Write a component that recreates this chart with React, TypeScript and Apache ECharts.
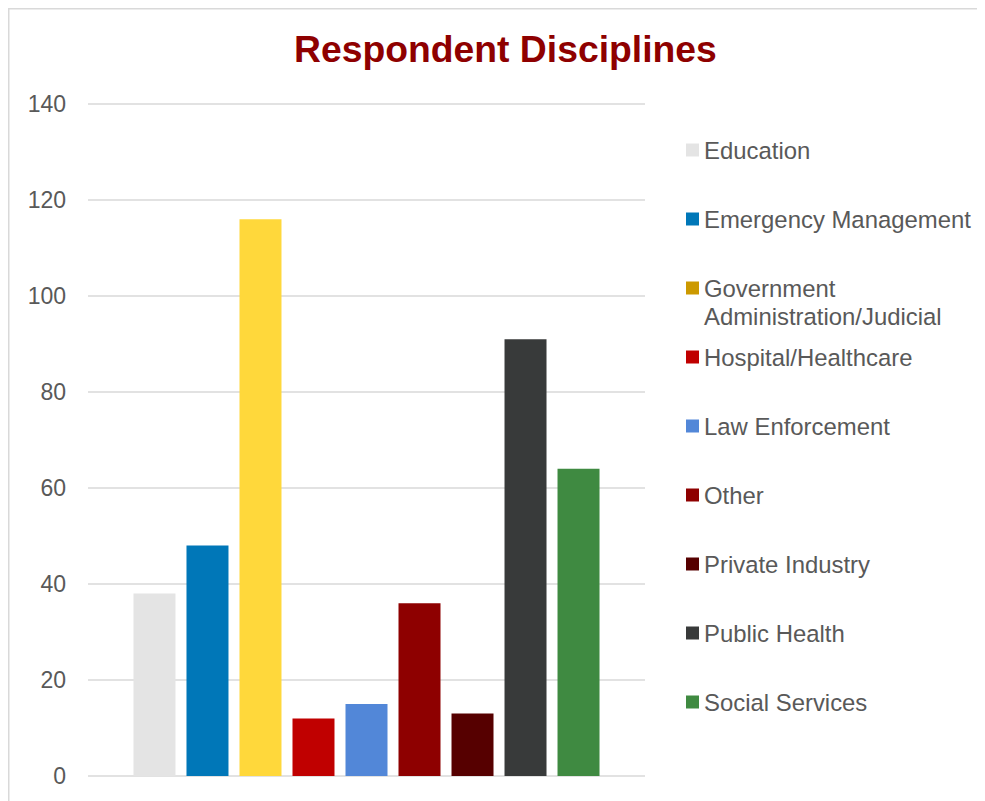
import React, { useEffect, useRef } from "react";
import * as echarts from "echarts";

const title = "Respondent Disciplines";
const disciplines = [
  "Education",
  "Emergency Management",
  "Government Administration/Judicial",
  "Hospital/Healthcare",
  "Law Enforcement",
  "Other",
  "Private Industry",
  "Public Health",
  "Social Services",
];
const counts = [38, 48, 116, 12, 15, 36, 13, 91, 64];
const barColors = [
  "#E4E4E4",
  "#0077B8",
  "#FFD83B",
  "#C00000",
  "#5287D8",
  "#8E0000",
  "#560000",
  "#383A3A",
  "#3F8A41",
];
const legendColors = [
  "#E4E4E4",
  "#0077B8",
  "#CC9900",
  "#C00000",
  "#5287D8",
  "#8E0000",
  "#560000",
  "#383A3A",
  "#3F8A41",
];
const yTicks = { min: 0, max: 140, interval: 20 };

const FONT = "'Liberation Sans', Arial, sans-serif";

export default function App() {
  const ref = useRef<HTMLDivElement>(null);

  useEffect(() => {
    document.body.style.overflow = "hidden";
    if (!ref.current) return;
    const chart = echarts.init(ref.current, undefined, { renderer: "svg" });

    const legendText = {
      color: "#595959",
      fontSize: 23.9,
      fontFamily: FONT,
      lineHeight: 28,
    };
    const legendBase = {
      orient: "vertical" as const,
      left: 678,
      padding: 0,
      itemWidth: 13,
      itemHeight: 13,
      itemGap: 41,
      icon: "rect",
      selectedMode: false,
      textStyle: legendText,
    };
    const legendItem = (i: number) => ({
      name: disciplines[i],
      itemStyle: { color: legendColors[i] },
    });

    chart.setOption({
      animation: false,
      backgroundColor: "#FFFFFF",
      title: {
        text: title,
        left: 286,
        top: 22.4,
        padding: 0,
        textStyle: {
          color: "#8E0000",
          fontSize: 37.3,
          fontWeight: "bold",
          fontFamily: FONT,
          lineHeight: 37.3,
        },
      },
      graphic: [
        {
          type: "rect",
          shape: { x: 0.75, y: 0.75, width: 3000, height: 3000 },
          style: { fill: "none", stroke: "#D9D9D9", lineWidth: 1.5 },
          silent: true,
        },
      ],
      legend: [
        {
          ...legendBase,
          top: 128,
          data: [legendItem(0), legendItem(1)],
        },
        {
          ...legendBase,
          top: 238,
          data: [legendItem(2)],
          formatter: () => "\nGovernment\nAdministration/Judicial",
        },
        {
          ...legendBase,
          top: 335,
          data: [3, 4, 5, 6, 7, 8].map(legendItem),
        },
      ],
      grid: { left: 80, top: 96, width: 557, height: 672, containLabel: false },
      xAxis: {
        type: "category",
        data: [""],
        axisLine: { show: false },
        axisTick: { show: false },
        axisLabel: { show: false },
        splitLine: { show: false },
      },
      yAxis: {
        type: "value",
        min: yTicks.min,
        max: yTicks.max,
        interval: yTicks.interval,
        axisLine: { show: false },
        axisTick: { show: false },
        axisLabel: {
          color: "#595959",
          fontSize: 23,
          fontFamily: FONT,
          margin: 22,
        },
        splitLine: { lineStyle: { color: "#D9D9D9", width: 1.5 } },
      },
      series: disciplines.map((name, i) => ({
        name,
        type: "bar",
        data: [counts[i]],
        barWidth: 42,
        barGap: "26.2%",
        itemStyle: { color: barColors[i] },
        emphasis: { disabled: true },
      })),
    });

    return () => chart.dispose();
  }, []);

  return <div ref={ref} style={{ width: 977, height: 793 }} />;
}
